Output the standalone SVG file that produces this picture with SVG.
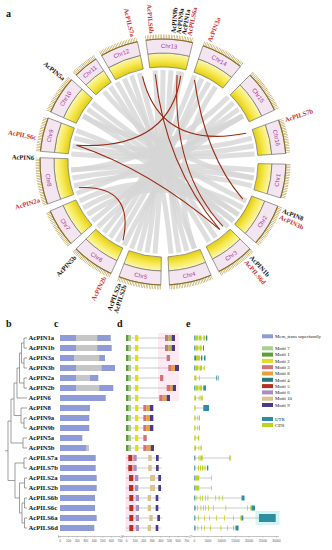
<svg xmlns="http://www.w3.org/2000/svg" width="332" height="550" viewBox="0 0 332 550">
<style>
.cl{font-family:"Liberation Sans",Arial,sans-serif;font-size:6px;fill:#a8389a;text-anchor:middle;dominant-baseline:central}
.gl{font-family:"Liberation Serif","Times New Roman",serif;font-size:6.6px;font-weight:bold;dominant-baseline:central}
.gr{text-anchor:end}
.r{fill:#cc3030}
.k{fill:#111}
.rib{fill:none;stroke:#d6d6d6;stroke-width:5;stroke-opacity:.8}
.lnk{fill:none;stroke:#9a2a12;stroke-width:1.1}
.hd{font-family:"Liberation Serif","Times New Roman",serif;font-size:10px;font-weight:bold;fill:#111}
.nm{font-family:"Liberation Serif","Times New Roman",serif;font-size:6.6px;font-weight:bold;fill:#111}
.tr{fill:none;stroke:#777;stroke-width:.7}
.mem{fill:#8e9bd6}
.gry{fill:#c6c6c6}
.ln{stroke:#a8a8a8;stroke-width:.6}
.ax{fill:none;stroke:#888;stroke-width:.5}
.at{font-family:"Liberation Sans",Arial,sans-serif;font-size:3px;fill:#555;text-anchor:middle}
.lg{font-family:"Liberation Serif","Times New Roman",serif;font-size:4.8px;fill:#222}
.m7{fill:#a9d18e}.m1{fill:#5e9e34}.m2{fill:#e2dc1c}.m3{fill:#cf727c}.m8{fill:#e9a23a}.mo{fill:#b3b452}
.m4{fill:#287878}.m5{fill:#b8301f}.m6{fill:#a98cc4}.m10{fill:#dcc38d}.m9{fill:#4a3a8a}
.utr{fill:#2d8ea0}.cds{fill:#bcd21c}
</style>
<defs>
<radialGradient id="yg" gradientUnits="userSpaceOnUse" cx="163" cy="162" r="109">
<stop offset="0.87" stop-color="#e3cc12"/>
<stop offset="0.93" stop-color="#f5e84e"/>
<stop offset="1" stop-color="#fdf7b2"/>
</radialGradient>
<g id="s12">
<path d="M153.07,67.52 A95,95 0 0 1 172.93,67.52 L174.39,53.60 A109,109 0 0 0 151.61,53.60 Z" fill="url(#yg)" stroke="#666" stroke-width="0.6"/>
<path d="M151.61,53.60 A109,109 0 0 1 174.39,53.60 L175.86,39.67 A123,123 0 0 0 150.14,39.67 Z" fill="#f4e6f1" stroke="#666" stroke-width="0.6"/>
<path d="M149.88,37.19 A125.5,125.5 0 0 1 176.12,37.19" fill="none" stroke="#b08a28" stroke-width="4" stroke-dasharray="0.5 1.1"/>
<path d="M150.14,39.67 A123,123 0 0 1 175.86,39.67" fill="none" stroke="#8a6e1c" stroke-width="1.1"/>
</g>
<g id="s16">
<path d="M149.78,67.92 A95,95 0 0 1 176.22,67.92 L178.17,54.06 A109,109 0 0 0 147.83,54.06 Z" fill="url(#yg)" stroke="#666" stroke-width="0.6"/>
<path d="M147.83,54.06 A109,109 0 0 1 178.17,54.06 L180.12,40.20 A123,123 0 0 0 145.88,40.20 Z" fill="#f4e6f1" stroke="#666" stroke-width="0.6"/>
<path d="M145.53,37.72 A125.5,125.5 0 0 1 180.47,37.72" fill="none" stroke="#b08a28" stroke-width="4" stroke-dasharray="0.5 1.1"/>
<path d="M145.88,40.20 A123,123 0 0 1 180.12,40.20" fill="none" stroke="#8a6e1c" stroke-width="1.1"/>
</g>
<g id="s18">
<path d="M148.14,68.17 A95,95 0 0 1 177.86,68.17 L180.05,54.34 A109,109 0 0 0 145.95,54.34 Z" fill="url(#yg)" stroke="#666" stroke-width="0.6"/>
<path d="M145.95,54.34 A109,109 0 0 1 180.05,54.34 L182.24,40.51 A123,123 0 0 0 143.76,40.51 Z" fill="#f4e6f1" stroke="#666" stroke-width="0.6"/>
<path d="M143.37,38.04 A125.5,125.5 0 0 1 182.63,38.04" fill="none" stroke="#b08a28" stroke-width="4" stroke-dasharray="0.5 1.1"/>
<path d="M143.76,40.51 A123,123 0 0 1 182.24,40.51" fill="none" stroke="#8a6e1c" stroke-width="1.1"/>
</g>
<g id="s20">
<path d="M146.50,68.44 A95,95 0 0 1 179.50,68.44 L181.93,54.66 A109,109 0 0 0 144.07,54.66 Z" fill="url(#yg)" stroke="#666" stroke-width="0.6"/>
<path d="M144.07,54.66 A109,109 0 0 1 181.93,54.66 L184.36,40.87 A123,123 0 0 0 141.64,40.87 Z" fill="#f4e6f1" stroke="#666" stroke-width="0.6"/>
<path d="M141.21,38.41 A125.5,125.5 0 0 1 184.79,38.41" fill="none" stroke="#b08a28" stroke-width="4" stroke-dasharray="0.5 1.1"/>
<path d="M141.64,40.87 A123,123 0 0 1 184.36,40.87" fill="none" stroke="#8a6e1c" stroke-width="1.1"/>
</g>
<g id="s22">
<path d="M144.87,68.75 A95,95 0 0 1 181.13,68.75 L183.80,55.00 A109,109 0 0 0 142.20,55.00 Z" fill="url(#yg)" stroke="#666" stroke-width="0.6"/>
<path d="M142.20,55.00 A109,109 0 0 1 183.80,55.00 L186.47,41.26 A123,123 0 0 0 139.53,41.26 Z" fill="#f4e6f1" stroke="#666" stroke-width="0.6"/>
<path d="M139.05,38.81 A125.5,125.5 0 0 1 186.95,38.81" fill="none" stroke="#b08a28" stroke-width="4" stroke-dasharray="0.5 1.1"/>
<path d="M139.53,41.26 A123,123 0 0 1 186.47,41.26" fill="none" stroke="#8a6e1c" stroke-width="1.1"/>
</g>
</defs>
<rect width="332" height="550" fill="#fff"/>

<text class="hd" x="6" y="17">a</text>

<g id="ribbons">
<path class="rib" d="M253.6,178 Q163,162 72.4,178"/>
<path class="rib" d="M254.7,170 Q163,162 71.3,170"/>
<path class="rib" d="M251.9,185.8 Q163,162 74.1,185.8"/>
<path class="rib" d="M242.7,208 Q163,162 79.6,200.9"/>
<path class="rib" d="M238.4,214.8 Q163,162 83.3,208"/>
<path class="rib" d="M253.6,146 Q163,162 71.3,154"/>
<path class="rib" d="M251.9,138.2 Q163,162 74.1,138.2"/>
<path class="rib" d="M254.7,154 Q163,162 72.4,146"/>
<path class="rib" d="M242.7,116 Q163,162 83.3,116"/>
<path class="rib" d="M238.4,109.2 Q163,162 92.5,221.1"/>
<path class="rib" d="M233.5,221.1 Q163,162 87.6,214.8"/>
<path class="rib" d="M163,70 Q163,162 155,253.6"/>
<path class="rib" d="M155,70.4 Q163,162 147,252.6"/>
<path class="rib" d="M171,70.4 Q163,162 179,252.6"/>
<path class="rib" d="M179,71.4 Q163,162 139.2,250.9"/>
<path class="rib" d="M139.2,73.1 Q163,162 186.8,250.9"/>
<path class="rib" d="M131.5,75.5 Q163,162 171,253.6"/>
<path class="rib" d="M201.9,78.6 Q163,162 131.5,248.5"/>
<path class="rib" d="M209,82.3 Q163,162 117,241.7"/>
<path class="rib" d="M194.5,75.5 Q163,162 110.2,237.4"/>
<path class="rib" d="M215.8,86.6 Q163,162 194.5,248.5"/>
<path class="rib" d="M124.1,78.6 Q163,162 215.8,237.4"/>
<path class="rib" d="M110.2,86.6 Q163,162 209,241.7"/>
<path class="rib" d="M103.9,91.5 Q163,162 253.6,178"/>
<path class="rib" d="M87.6,109.2 Q163,162 238.4,214.8"/>
<path class="rib" d="M83.3,116 Q163,162 228.1,227.1"/>
<path class="rib" d="M76.5,193.5 Q163,162 242.7,116"/>
<path class="rib" d="M71.3,170 Q163,162 228.1,96.9"/>
<path class="rib" d="M182.1,72 Q163,162 103.9,232.5"/>
<path class="rib" d="M242.7,116 Q163,162 97.9,227.1"/>
<path class="rib" d="M92.5,102.9 Q163,162 246.4,200.9"/>
<path class="rib" d="M76.5,130.5 Q163,162 233.5,221.1"/>
<path class="rib" d="M194.5,248.5 Q163,162 117,82.3"/>
<path class="rib" d="M233.5,102.9 Q163,162 124.1,245.4"/>
</g>

<g id="chr1"><use href="#s16" transform="rotate(99 163 162)"/><text class="cl" transform="rotate(99 163 162) rotate(180 163 46)" x="163" y="46">Chr1</text></g>
<g id="chr2"><use href="#s20" transform="rotate(121 163 162)"/><text class="cl" transform="rotate(121 163 162) rotate(180 163 46)" x="163" y="46">Chr2</text></g>
<g id="chr3"><use href="#s18" transform="rotate(144 163 162)"/><text class="cl" transform="rotate(144 163 162) rotate(180 163 46)" x="163" y="46">Chr3</text></g>
<g id="chr4"><use href="#s20" transform="rotate(167 163 162)"/><text class="cl" transform="rotate(167 163 162) rotate(180 163 46)" x="163" y="46">Chr4</text></g>
<g id="chr5"><use href="#s20" transform="rotate(191 163 162)"/><text class="cl" transform="rotate(191 163 162) rotate(180 163 46)" x="163" y="46">Chr5</text></g>
<g id="chr6"><use href="#s20" transform="rotate(215 163 162)"/><text class="cl" transform="rotate(215 163 162) rotate(180 163 46)" x="163" y="46">Chr6</text></g>
<g id="chr7"><use href="#s18" transform="rotate(237.5 163 162)"/><text class="cl" transform="rotate(237.5 163 162) rotate(180 163 46)" x="163" y="46">Chr7</text></g>
<g id="chr8"><use href="#s22" transform="rotate(261 163 162)"/><text class="cl" transform="rotate(261 163 162) rotate(180 163 46)" x="163" y="46">Chr8</text></g>
<g id="chr9"><use href="#s16" transform="rotate(283 163 162)"/><text class="cl" transform="rotate(283 163 162)" x="163" y="46">Chr9</text></g>
<g id="chr10"><use href="#s18" transform="rotate(303 163 162)"/><text class="cl" transform="rotate(303 163 162)" x="163" y="46">Chr10</text></g>
<g id="chr11"><use href="#s12" transform="rotate(321 163 162)"/><text class="cl" transform="rotate(321 163 162)" x="163" y="46">Chr11</text></g>
<g id="chr12"><use href="#s18" transform="rotate(339 163 162)"/><text class="cl" transform="rotate(339 163 162)" x="163" y="46">Chr12</text></g>
<g id="chr13"><use href="#s22" transform="rotate(3 163 162)"/><text class="cl" transform="rotate(3 163 162)" x="163" y="46">Chr13</text></g>
<g id="chr14"><use href="#s20" transform="rotate(29 163 162)"/><text class="cl" transform="rotate(29 163 162)" x="163" y="46">Chr14</text></g>
<g id="chr15"><use href="#s20" transform="rotate(55 163 162)"/><text class="cl" transform="rotate(55 163 162)" x="163" y="46">Chr15</text></g>
<g id="chr16"><use href="#s16" transform="rotate(78 163 162)"/><text class="cl" transform="rotate(78 163 162)" x="163" y="46">Chr16</text></g>

<g id="links">
<path class="lnk" d="M142.5,76.4 Q160,150 246.2,133.3"/>
<path class="lnk" d="M155.3,74.3 Q165,165 219.6,229.4"/>
<path class="lnk" d="M180.7,75.8 Q170,150 76.6,145.2"/>
<path class="lnk" d="M177.1,75.1 Q172,172 223,226.4"/>
<path class="lnk" d="M194.5,79.8 Q205,155 242.8,199.2"/>
<path class="lnk" d="M76.6,145.2 Q150,170 219.6,229.4"/>
<path class="lnk" d="M78.8,187.7 Q135,185 123,240.4"/>
</g>

<g id="gene-labels">
<text class="gl k" transform="rotate(-85.5 163 162)" x="292" y="162">AcPIN9b</text>
<text class="gl k" transform="rotate(-83.2 163 162)" x="292" y="162">AcPIN9a</text>
<text class="gl k" transform="rotate(-80.8 163 162)" x="292" y="162">AcPIN1a</text>
<text class="gl r" transform="rotate(-78.4 163 162)" x="292" y="162">AcPILS6a</text>
<text class="gl r" transform="rotate(-69 163 162)" x="292" y="162">AcPIN3a</text>
<text class="gl r" transform="rotate(-19 163 162)" x="292" y="162">AcPILS7b</text>
<text class="gl k" transform="rotate(22 163 162)" x="292" y="162">AcPIN8</text>
<text class="gl r" transform="rotate(25 163 162)" x="292" y="162">AcPIN3b</text>
<text class="gl k" transform="rotate(47 163 162)" x="292" y="162">AcPIN1b</text>
<text class="gl r" transform="rotate(50 163 162)" x="292" y="162">AcPILS6d</text>
<text class="gl gr k" transform="rotate(287.5 163 162)" x="34" y="162">AcPILS2b</text>
<text class="gl gr k" transform="rotate(290 163 162)" x="34" y="162">AcPILS2a</text>
<text class="gl gr r" transform="rotate(297 163 162)" x="34" y="162">AcPIN2b</text>
<text class="gl gr k" transform="rotate(313 163 162)" x="34" y="162">AcPIN5b</text>
<text class="gl gr r" transform="rotate(343 163 162)" x="34" y="162">AcPIN2a</text>
<text class="gl gr k" transform="rotate(2 163 162)" x="34" y="162">AcPIN6</text>
<text class="gl gr r" transform="rotate(11 163 162)" x="34" y="162">AcPILS6c</text>
<text class="gl gr k" transform="rotate(40 163 162)" x="34" y="162">AcPIN5a</text>
<text class="gl gr r" transform="rotate(76.5 163 162)" x="34" y="162">AcPILS7a</text>
<text class="gl gr r" transform="rotate(85 163 162)" x="34" y="162">AcPILS6b</text>
</g>

<g id="headers">
<text class="hd" x="6" y="327">b</text>
<text class="hd" x="54" y="327">c</text>
<text class="hd" x="117" y="327">d</text>
<text class="hd" x="186" y="327">e</text>
</g>

<g id="halos">
<rect x="158" y="333" width="21" height="68" fill="#fdeaf3"/>
<rect x="125.5" y="454" width="10" height="78" fill="#fde3ef"/>
<rect x="255.5" y="511" width="24" height="14" fill="#d4f4f6"/>
</g>

<g id="tree">
<path class="tr" d="M27,338 H24 V348 H27 M27,358 H24 V368 H27 M24,343 H21.5 V363 H24 M27,378 H24 V388 H27 M21.5,353 H19.5 V383 H24 M19.5,368 H17 V398 H27 M27,418 H24 V428 H27 M27,408 H21 V423 H24 M17,383 H14 V415.5 H21 M27,438 H23 V448 H27 M14,399 H11 V443 H23 M27,458 H24 V468 H27 M27,478 H24.5 V488 H27 M27,498 H24.5 V508 H27 M27,518 H24.5 V528 H27 M24.5,503 H22 V523 H24.5 M24.5,483 H19.5 V513 H22 M24,463 H15 V498 H19.5 M11,421 H8 V480.5 H15 M8,450.75 H5"/>
</g>

<g id="names">
<text class="nm" x="28.5" y="340.4">AcPIN1a</text>
<text class="nm" x="28.5" y="350.4">AcPIN1b</text>
<text class="nm" x="28.5" y="360.4">AcPIN3a</text>
<text class="nm" x="28.5" y="370.4">AcPIN3b</text>
<text class="nm" x="28.5" y="380.4">AcPIN2a</text>
<text class="nm" x="28.5" y="390.4">AcPIN2b</text>
<text class="nm" x="28.5" y="400.4">AcPIN6</text>
<text class="nm" x="28.5" y="410.4">AcPIN8</text>
<text class="nm" x="28.5" y="420.4">AcPIN9a</text>
<text class="nm" x="28.5" y="430.4">AcPIN9b</text>
<text class="nm" x="28.5" y="440.4">AcPIN5a</text>
<text class="nm" x="28.5" y="450.4">AcPIN5b</text>
<text class="nm" x="28.5" y="460.4">AcPILS7a</text>
<text class="nm" x="28.5" y="470.4">AcPILS7b</text>
<text class="nm" x="28.5" y="480.4">AcPILS2a</text>
<text class="nm" x="28.5" y="490.4">AcPILS2b</text>
<text class="nm" x="28.5" y="500.4">AcPILS6b</text>
<text class="nm" x="28.5" y="510.4">AcPILS6c</text>
<text class="nm" x="28.5" y="520.4">AcPILS6a</text>
<text class="nm" x="28.5" y="530.4">AcPILS6d</text>
</g>

<g id="domains">
<rect class="mem" x="60" y="335" width="50.7" height="6"/><rect class="gry" x="76" y="335" width="21.3" height="6"/>
<rect class="mem" x="60" y="345" width="51.7" height="6"/><rect class="gry" x="76" y="345" width="21.3" height="6"/>
<rect class="mem" x="60" y="355" width="45" height="6"/><rect class="gry" x="74" y="355" width="25.3" height="6"/>
<rect class="mem" x="60" y="365" width="55" height="6"/><rect class="gry" x="76" y="365" width="25.7" height="6"/>
<rect class="mem" x="60" y="375" width="38.3" height="6"/><rect class="gry" x="76" y="375" width="14" height="6"/>
<rect class="mem" x="60" y="385" width="53.3" height="6"/><rect class="gry" x="76" y="385" width="23.3" height="6"/>
<rect class="mem" x="60" y="395" width="45.7" height="6"/>
<rect class="mem" x="60" y="405" width="30" height="6"/>
<rect class="mem" x="60" y="415" width="29.3" height="6"/>
<rect class="mem" x="60" y="425" width="29.3" height="6"/>
<rect class="mem" x="60" y="435" width="22.3" height="6"/>
<rect class="mem" x="60" y="445" width="26.7" height="6"/><rect class="gry" x="86.7" y="445" width="2.3" height="6"/>
<rect class="mem" x="60" y="455" width="35.7" height="6"/>
<rect class="mem" x="60" y="465" width="35.7" height="6"/>
<rect class="mem" x="60" y="475" width="36.7" height="6"/>
<rect class="mem" x="60" y="485" width="36.7" height="6"/>
<rect class="mem" x="60" y="495" width="35" height="6"/>
<rect class="mem" x="60" y="505" width="35" height="6"/>
<rect class="mem" x="60" y="515" width="36.7" height="6"/>
<rect class="mem" x="60" y="525" width="34.3" height="6"/>
<path class="ax" d="M58.5,536.5 H120 M60,536.5 v1 M68.57,536.5 v1 M77.14,536.5 v1 M85.71,536.5 v1 M94.29,536.5 v1 M102.86,536.5 v1 M111.43,536.5 v1 M120,536.5 v1 M58.5,535 v3"/>
<text class="at" x="60" y="541.5">0</text><text class="at" x="68.57" y="541.5">100</text><text class="at" x="77.14" y="541.5">200</text><text class="at" x="85.71" y="541.5">300</text><text class="at" x="94.29" y="541.5">400</text><text class="at" x="102.86" y="541.5">500</text><text class="at" x="111.43" y="541.5">600</text><text class="at" x="120" y="541.5">700</text>
</g>

<g id="motifs">
<g id="mrow0"><line class="ln" x1="126" y1="338" x2="175" y2="338"/><rect class="m1" x="126" y="335" width="2.7" height="6"/><rect class="m7" x="128.7" y="335" width="2.3" height="6"/><rect class="m2" x="135" y="335" width="3.3" height="6"/><rect class="m3" x="165" y="335" width="3.3" height="6"/><rect class="mo" x="168.3" y="335" width="3.4" height="6"/><rect class="m9" x="171.7" y="335" width="3.3" height="6"/></g>
<g id="mrow1"><line class="ln" x1="126" y1="348" x2="175" y2="348"/><rect class="m1" x="126" y="345" width="2.7" height="6"/><rect class="m7" x="128.7" y="345" width="2.3" height="6"/><rect class="m2" x="135" y="345" width="3.3" height="6"/><rect class="m3" x="165" y="345" width="3.3" height="6"/><rect class="mo" x="168.3" y="345" width="3.4" height="6"/><rect class="m9" x="171.7" y="345" width="3.3" height="6"/></g>
<g id="mrow2"><line class="ln" x1="126" y1="358" x2="170" y2="358"/><rect class="m1" x="126" y="355" width="2.7" height="6"/><rect class="m7" x="128.7" y="355" width="2.3" height="6"/><rect class="m2" x="135" y="355" width="3.3" height="6"/><rect class="m3" x="166.7" y="355" width="3.3" height="6"/></g>
<g id="mrow3"><line class="ln" x1="126" y1="368" x2="179" y2="368"/><rect class="m1" x="126" y="365" width="2.7" height="6"/><rect class="m7" x="128.7" y="365" width="2.3" height="6"/><rect class="m2" x="135" y="365" width="3.3" height="6"/><rect class="m3" x="168.3" y="365" width="3.4" height="6"/><rect class="m8" x="171.7" y="365" width="3.3" height="6"/><rect class="m9" x="175" y="365" width="4" height="6"/></g>
<g id="mrow4"><line class="ln" x1="126" y1="378" x2="163.3" y2="378"/><rect class="m1" x="126" y="375" width="2.7" height="6"/><rect class="m7" x="128.7" y="375" width="2.3" height="6"/><rect class="m2" x="135" y="375" width="3.3" height="6"/><rect class="m3" x="160" y="375" width="3.3" height="6"/></g>
<g id="mrow5"><line class="ln" x1="126" y1="388" x2="176" y2="388"/><rect class="m1" x="126" y="385" width="2.7" height="6"/><rect class="m7" x="128.7" y="385" width="2.3" height="6"/><rect class="m2" x="135" y="385" width="3.3" height="6"/><rect class="m3" x="166.7" y="385" width="3.3" height="6"/><rect class="m8" x="170" y="385" width="2.7" height="6"/><rect class="m9" x="172.7" y="385" width="3.3" height="6"/></g>
<g id="mrow6"><line class="ln" x1="126" y1="398" x2="170" y2="398"/><rect class="m1" x="126" y="395" width="2.7" height="6"/><rect class="m7" x="128.7" y="395" width="2.3" height="6"/><rect class="m2" x="135" y="395" width="3.3" height="6"/><rect class="m3" x="159.3" y="395" width="3.4" height="6"/><rect class="m8" x="162.7" y="395" width="4" height="6"/><rect class="m9" x="166.7" y="395" width="3.3" height="6"/></g>
<g id="mrow7"><line class="ln" x1="126" y1="408" x2="153.3" y2="408"/><rect class="m1" x="126" y="405" width="2.7" height="6"/><rect class="m7" x="128.7" y="405" width="2.3" height="6"/><rect class="m2" x="135" y="405" width="3.3" height="6"/><rect class="m3" x="143.3" y="405" width="2.9" height="6"/><rect class="m8" x="146.2" y="405" width="3.8" height="6"/><rect class="m9" x="150" y="405" width="3.3" height="6"/></g>
<g id="mrow8"><line class="ln" x1="126" y1="418" x2="153.3" y2="418"/><rect class="m1" x="126" y="415" width="2.7" height="6"/><rect class="m7" x="128.7" y="415" width="2.3" height="6"/><rect class="m2" x="135" y="415" width="3.3" height="6"/><rect class="m3" x="143.3" y="415" width="2.9" height="6"/><rect class="m8" x="146.2" y="415" width="3.8" height="6"/><rect class="m9" x="150" y="415" width="3.3" height="6"/></g>
<g id="mrow9"><line class="ln" x1="126" y1="428" x2="153.3" y2="428"/><rect class="m1" x="126" y="425" width="2.7" height="6"/><rect class="m7" x="128.7" y="425" width="2.3" height="6"/><rect class="m2" x="135" y="425" width="3.3" height="6"/><rect class="m3" x="143.3" y="425" width="2.9" height="6"/><rect class="m8" x="146.2" y="425" width="3.8" height="6"/><rect class="m9" x="150" y="425" width="3.3" height="6"/></g>
<g id="mrow10"><line class="ln" x1="126" y1="438" x2="146.7" y2="438"/><rect class="m1" x="126" y="435" width="2.7" height="6"/><rect class="m7" x="128.7" y="435" width="2.3" height="6"/><rect class="m2" x="135" y="435" width="3.3" height="6"/><rect class="m3" x="143.3" y="435" width="3.4" height="6"/></g>
<g id="mrow11"><line class="ln" x1="126" y1="448" x2="154" y2="448"/><rect class="m1" x="126" y="445" width="2.7" height="6"/><rect class="m7" x="128.7" y="445" width="2.3" height="6"/><rect class="m2" x="135" y="445" width="3.3" height="6"/><rect class="m3" x="143.3" y="445" width="3.4" height="6"/><rect class="m8" x="146.7" y="445" width="4" height="6"/><rect class="m9" x="150.7" y="445" width="3.3" height="6"/></g>
<g id="mrow12"><line class="ln" x1="126" y1="458" x2="161.7" y2="458"/><rect class="m5" x="128.3" y="455" width="4" height="6"/><rect class="m6" x="133.3" y="455" width="3.4" height="6"/><rect class="m10" x="148.3" y="455" width="3.4" height="6"/><rect class="m9" x="156" y="455" width="2.7" height="6"/></g>
<g id="mrow13"><line class="ln" x1="126" y1="468" x2="161.7" y2="468"/><rect class="m5" x="128.3" y="465" width="4" height="6"/><rect class="m6" x="133.3" y="465" width="3.4" height="6"/><rect class="m10" x="148.3" y="465" width="3.4" height="6"/><rect class="m9" x="156" y="465" width="2.7" height="6"/></g>
<g id="mrow14"><line class="ln" x1="126" y1="478" x2="162.3" y2="478"/><rect class="m5" x="129" y="475" width="4.3" height="6"/><rect class="m6" x="135" y="475" width="3.3" height="6"/><rect class="m10" x="150" y="475" width="5" height="6"/><rect class="m9" x="158.3" y="475" width="2.7" height="6"/></g>
<g id="mrow15"><line class="ln" x1="126" y1="488" x2="162.3" y2="488"/><rect class="m5" x="129" y="485" width="4.3" height="6"/><rect class="m6" x="135" y="485" width="3.3" height="6"/><rect class="m10" x="150" y="485" width="5" height="6"/><rect class="m9" x="158.3" y="485" width="2.7" height="6"/></g>
<g id="mrow16"><line class="ln" x1="126" y1="498" x2="160.7" y2="498"/><rect class="m5" x="129.3" y="495" width="4" height="6"/><rect class="m6" x="135.7" y="495" width="3.3" height="6"/><rect class="m10" x="147.7" y="495" width="3.3" height="6"/><rect class="m9" x="155.7" y="495" width="2.6" height="6"/></g>
<g id="mrow17"><line class="ln" x1="126" y1="508" x2="160.7" y2="508"/><rect class="m5" x="129.3" y="505" width="4" height="6"/><rect class="m6" x="135.7" y="505" width="3.3" height="6"/><rect class="m10" x="147.7" y="505" width="3.3" height="6"/><rect class="m9" x="155.7" y="505" width="2.6" height="6"/></g>
<g id="mrow18"><line class="ln" x1="126" y1="518" x2="162.3" y2="518"/><rect class="m5" x="129.3" y="515" width="4" height="6"/><rect class="m6" x="135.7" y="515" width="3.3" height="6"/><rect class="m10" x="149.3" y="515" width="3.4" height="6"/><rect class="m9" x="157.3" y="515" width="2.7" height="6"/></g>
<g id="mrow19"><line class="ln" x1="126" y1="528" x2="160.7" y2="528"/><rect class="m5" x="129.3" y="525" width="4" height="6"/><rect class="m6" x="135.7" y="525" width="3.3" height="6"/><rect class="m10" x="147.7" y="525" width="3.3" height="6"/><rect class="m9" x="155.7" y="525" width="2.6" height="6"/></g>
<path class="ax" d="M122,536.5 H189 M126.5,536.5 v1 M135.1,536.5 v1 M143.7,536.5 v1 M152.3,536.5 v1 M160.9,536.5 v1 M169.5,536.5 v1 M178.1,536.5 v1 M186.7,536.5 v1 M120.5,538 l1.5,-3 M122,538 l1.5,-3"/>
<text class="at" x="126.5" y="541.5">0</text><text class="at" x="135.1" y="541.5">100</text><text class="at" x="143.7" y="541.5">200</text><text class="at" x="152.3" y="541.5">300</text><text class="at" x="160.9" y="541.5">400</text><text class="at" x="169.5" y="541.5">500</text><text class="at" x="178.1" y="541.5">600</text><text class="at" x="186.7" y="541.5">700</text>
</g>

<g id="genes">
<g id="grow0"><line class="ln" x1="194.3" y1="338" x2="207.3" y2="338"/><rect class="utr" x="194.3" y="335.5" width="1" height="5"/><rect class="cds" x="195.3" y="335.5" width="3" height="5"/><rect class="cds" x="199" y="335.5" width="2.5" height="5"/><rect class="cds" x="203.3" y="335.5" width="1.7" height="5"/><rect class="utr" x="206" y="335.5" width="1.3" height="5"/></g>
<g id="grow1"><line class="ln" x1="194.3" y1="348" x2="204" y2="348"/><rect class="utr" x="194.3" y="345.5" width="1" height="5"/><rect class="cds" x="195.3" y="345.5" width="3.2" height="5"/><rect class="cds" x="199.5" y="345.5" width="2.2" height="5"/><rect class="utr" x="203" y="345.5" width="1" height="5"/></g>
<g id="grow2"><line class="ln" x1="194.3" y1="358" x2="205.5" y2="358"/><rect class="utr" x="194.3" y="355.5" width="1.7" height="5"/><rect class="cds" x="196" y="355.5" width="4" height="5"/><rect class="utr" x="201" y="355.5" width="1.3" height="5"/><rect class="utr" x="204" y="355.5" width="1.5" height="5"/></g>
<g id="grow3"><line class="ln" x1="194.3" y1="368" x2="205" y2="368"/><rect class="utr" x="194.3" y="365.5" width="1" height="5"/><rect class="cds" x="195.3" y="365.5" width="3.2" height="5"/><rect class="cds" x="199.5" y="365.5" width="2.5" height="5"/><rect class="cds" x="203.7" y="365.5" width="1" height="5"/></g>
<g id="grow4"><line class="ln" x1="194.3" y1="378" x2="218.5" y2="378"/><rect class="cds" x="194.3" y="375.5" width="2" height="5"/><rect class="cds" x="199" y="375.5" width="0.8" height="5"/><rect class="utr" x="216.3" y="375.5" width="0.7" height="5"/><rect class="utr" x="217.8" y="375.5" width="0.7" height="5"/></g>
<g id="grow5"><line class="ln" x1="194.3" y1="388" x2="206" y2="388"/><rect class="utr" x="194.3" y="385.5" width="1" height="5"/><rect class="cds" x="195.3" y="385.5" width="3.2" height="5"/><rect class="cds" x="199.3" y="385.5" width="2.7" height="5"/><rect class="utr" x="203.3" y="385.5" width="2.7" height="5"/></g>
<g id="grow6"><line class="ln" x1="194.3" y1="398" x2="203" y2="398"/><rect class="cds" x="194.3" y="395.5" width="1.7" height="5"/><rect class="cds" x="198.7" y="395.5" width="0.8" height="5"/><rect class="cds" x="200.5" y="395.5" width="1.2" height="5"/><rect class="cds" x="202.3" y="395.5" width="0.7" height="5"/></g>
<g id="grow7"><line class="ln" x1="194.3" y1="408" x2="209" y2="408"/><rect class="cds" x="194.3" y="405.5" width="1.2" height="5"/><rect class="utr" x="203.3" y="405" width="5.7" height="6"/></g>
<g id="grow8"><line class="ln" x1="194.3" y1="418" x2="200" y2="418"/><rect class="cds" x="194.3" y="415.5" width="1.2" height="5"/><rect class="cds" x="197.3" y="415.5" width="0.6" height="5"/><rect class="cds" x="198.8" y="415.5" width="1.2" height="5"/></g>
<g id="grow9"><line class="ln" x1="194.3" y1="428" x2="200" y2="428"/><rect class="cds" x="194.3" y="425.5" width="1.2" height="5"/><rect class="cds" x="197.3" y="425.5" width="0.6" height="5"/><rect class="cds" x="198.8" y="425.5" width="1.2" height="5"/></g>
<g id="grow10"><line class="ln" x1="194.3" y1="438" x2="199.2" y2="438"/><rect class="cds" x="194.3" y="435.5" width="1.4" height="5"/><rect class="cds" x="197.8" y="435.5" width="1.4" height="5"/></g>
<g id="grow11"><line class="ln" x1="194.3" y1="448" x2="201.7" y2="448"/><rect class="cds" x="194.3" y="445.5" width="1.7" height="5"/><rect class="cds" x="198.5" y="445.5" width="0.7" height="5"/><rect class="cds" x="200.5" y="445.5" width="1.2" height="5"/></g>
<g id="grow12"><line class="ln" x1="194.3" y1="458" x2="230.7" y2="458"/><rect class="utr" x="194.3" y="455.5" width="1" height="5"/><rect class="cds" x="198.5" y="455.5" width="1" height="5"/><rect class="cds" x="200.3" y="455.5" width="2.4" height="5"/><rect class="cds" x="229.2" y="455.5" width="1.5" height="5"/></g>
<g id="grow13"><line class="ln" x1="194.3" y1="468" x2="208.3" y2="468"/><rect class="utr" x="194.3" y="465.5" width="1" height="5"/><rect class="cds" x="198" y="465.5" width="1" height="5"/><rect class="cds" x="200" y="465.5" width="1" height="5"/><rect class="cds" x="202" y="465.5" width="1.3" height="5"/><rect class="cds" x="204.5" y="465.5" width="1" height="5"/><rect class="utr" x="207" y="465.5" width="1.3" height="5"/></g>
<g id="grow14"><line class="ln" x1="194.3" y1="478" x2="211.7" y2="478"/><rect class="utr" x="194.3" y="475.5" width="1" height="5"/><rect class="cds" x="195.3" y="475.5" width="4" height="5"/><rect class="cds" x="211" y="475.5" width="0.7" height="5"/></g>
<g id="grow15"><line class="ln" x1="194.3" y1="488" x2="211.7" y2="488"/><rect class="utr" x="194.3" y="485.5" width="1" height="5"/><rect class="cds" x="195.3" y="485.5" width="4" height="5"/><rect class="cds" x="211" y="485.5" width="0.7" height="5"/></g>
<g id="grow16"><line class="ln" x1="194.3" y1="498" x2="244.5" y2="498"/><rect class="utr" x="194.3" y="495.5" width="1" height="5"/><rect class="cds" x="196.5" y="495.5" width="0.8" height="5"/><rect class="cds" x="199.8" y="495.5" width="0.8" height="5"/><rect class="cds" x="202" y="495.5" width="0.8" height="5"/><rect class="cds" x="205" y="495.5" width="0.8" height="5"/><rect class="cds" x="207.5" y="495.5" width="0.8" height="5"/><rect class="cds" x="215.3" y="495.5" width="0.8" height="5"/><rect class="cds" x="218.7" y="495.5" width="0.8" height="5"/><rect class="cds" x="222.3" y="495.5" width="0.8" height="5"/><rect class="cds" x="241" y="495.5" width="1" height="5"/><rect class="utr" x="242" y="495.5" width="2.5" height="5"/></g>
<g id="grow17"><line class="ln" x1="194.3" y1="508" x2="255" y2="508"/><rect class="utr" x="194.3" y="505.5" width="1.2" height="5"/><rect class="cds" x="197" y="505.5" width="0.8" height="5"/><rect class="cds" x="200.5" y="505.5" width="0.8" height="5"/><rect class="cds" x="203" y="505.5" width="0.8" height="5"/><rect class="cds" x="205" y="505.5" width="0.8" height="5"/><rect class="cds" x="208" y="505.5" width="0.8" height="5"/><rect class="cds" x="213" y="505.5" width="0.8" height="5"/><rect class="cds" x="225.5" y="505.5" width="0.8" height="5"/><rect class="cds" x="247" y="505.5" width="0.8" height="5"/><rect class="cds" x="250.3" y="505.5" width="1.2" height="5"/><rect class="utr" x="251.5" y="505.5" width="3.5" height="5"/></g>
<g id="grow18"><line class="ln" x1="194.3" y1="518" x2="276" y2="518"/><rect class="utr" x="194.3" y="515.5" width="1" height="5"/><rect class="cds" x="198" y="515.5" width="0.8" height="5"/><rect class="cds" x="204" y="515.5" width="0.8" height="5"/><rect class="cds" x="209" y="515.5" width="0.8" height="5"/><rect class="cds" x="216" y="515.5" width="0.8" height="5"/><rect class="cds" x="224" y="515.5" width="0.8" height="5"/><rect class="cds" x="233" y="515.5" width="0.8" height="5"/><rect class="cds" x="240.3" y="515.5" width="1.2" height="5"/><rect class="utr" x="241.5" y="515.5" width="1.8" height="5"/><rect class="utr" x="259" y="514" width="16.7" height="8"/></g>
<g id="grow19"><line class="ln" x1="194.3" y1="528" x2="238.5" y2="528"/><rect class="utr" x="194.3" y="525.5" width="1.2" height="5"/><rect class="cds" x="197.5" y="525.5" width="0.8" height="5"/><rect class="cds" x="201" y="525.5" width="0.8" height="5"/><rect class="cds" x="204" y="525.5" width="0.8" height="5"/><rect class="cds" x="210" y="525.5" width="0.8" height="5"/><rect class="cds" x="220.5" y="525.5" width="0.8" height="5"/><rect class="cds" x="227" y="525.5" width="0.8" height="5"/><rect class="cds" x="233" y="525.5" width="1.2" height="5"/><rect class="utr" x="235.5" y="525.5" width="3" height="5"/></g>
<path class="ax" d="M192,536.5 H279 M194.3,536.5 v1 M208,536.5 v1 M221.7,536.5 v1 M235.4,536.5 v1 M249.1,536.5 v1 M262.8,536.5 v1 M276.5,536.5 v1 M189,538 l1.5,-3 M190.5,538 l1.5,-3"/>
<text class="at" x="194.3" y="541.5">0</text><text class="at" x="208" y="541.5">5000</text><text class="at" x="221.7" y="541.5">10000</text><text class="at" x="235.4" y="541.5">15000</text><text class="at" x="249.1" y="541.5">20000</text><text class="at" x="262.8" y="541.5">25000</text><text class="at" x="276.5" y="541.5">30000</text>
</g>

<g id="legend">
<rect class="mem" x="262" y="334.3" width="11" height="4"/><text class="lg" x="275" y="338">Mem_trans superfamily</text>
<rect class="m7" x="262" y="346.3" width="11" height="4"/><text class="lg" x="275" y="350">Motif 7</text>
<rect class="m1" x="262" y="352.6" width="11" height="4"/><text class="lg" x="275" y="356.3">Motif 1</text>
<rect class="m2" x="262" y="358.9" width="11" height="4"/><text class="lg" x="275" y="362.6">Motif 2</text>
<rect class="m3" x="262" y="365.2" width="11" height="4"/><text class="lg" x="275" y="368.9">Motif 3</text>
<rect class="m8" x="262" y="371.5" width="11" height="4"/><text class="lg" x="275" y="375.2">Motif 8</text>
<rect class="m4" x="262" y="377.8" width="11" height="4"/><text class="lg" x="275" y="381.5">Motif 4</text>
<rect class="m5" x="262" y="384.1" width="11" height="4"/><text class="lg" x="275" y="387.8">Motif 5</text>
<rect class="m6" x="262" y="390.4" width="11" height="4"/><text class="lg" x="275" y="394.1">Motif 6</text>
<rect class="m10" x="262" y="396.7" width="11" height="4"/><text class="lg" x="275" y="400.4">Motif 10</text>
<rect class="m9" x="262" y="403" width="11" height="4"/><text class="lg" x="275" y="406.7">Motif 9</text>
<rect class="utr" x="262" y="417" width="11" height="4"/><text class="lg" x="275" y="420.7">UTR</text>
<rect class="cds" x="262" y="423" width="11" height="4"/><text class="lg" x="275" y="426.7">CDS</text>
</g>
</svg>
